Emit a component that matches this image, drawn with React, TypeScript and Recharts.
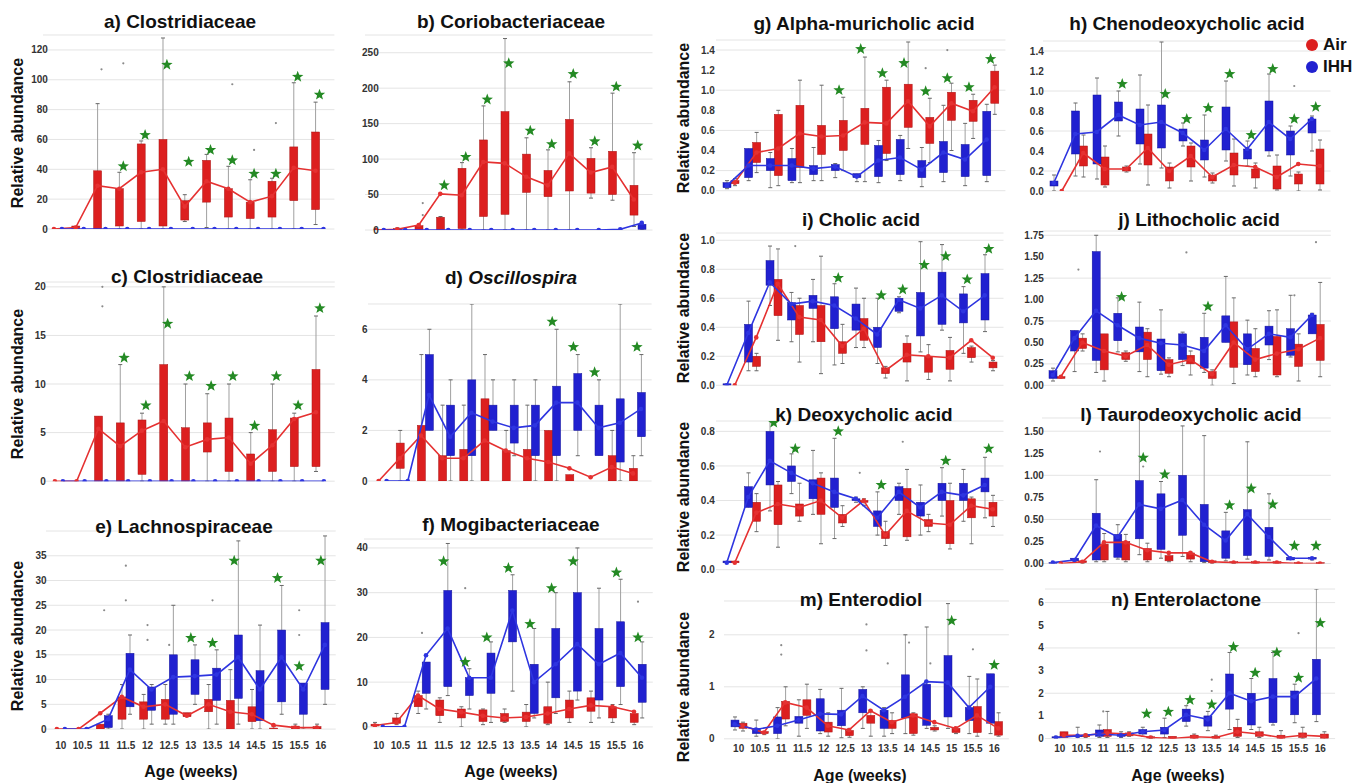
import { Bar, CartesianGrid, ComposedChart, Line, Scatter, XAxis, YAxis } from "recharts";

const AGES = ["10", "10.5", "11", "11.5", "12", "12.5", "13", "13.5", "14", "14.5", "15", "15.5", "16"];
const N13 = AGES.map(() => null);
const Z13 = AGES.map(() => 0);

// box tuples are [low whisker, q1, q3, high whisker]
// a) Clostridiaceae
const aRedBox = [null, [0, 0, 2, 2], [0, 0, 39, 84], [0, 2, 27, 38], [0, 5, 57, 59], [0, 2, 60, 128], [5, 6, 19, 23], [1, 18, 46, 50], [0, 8, 27, 42], [0, 7, 18, 33], [0, 8, 32, 34], [0, 19, 55, 98], [3, 13, 65, 85]];
const aBlueBox = N13;
const aRedLine = [0, 1, 29, 27, 38, 40, 15, 32, 27, 18, 22, 41, 39];
const aBlueLine = Z13;
const aStars = [null, null, null, 42, 63, 110, 45, 53, 46, 37, 37, 102, 90];
const aOut = [[2, 107], [3, 111], [8, 97], [9, 53], [10, 71]];
const aTicks = [0, 20, 40, 60, 80, 100, 120];

// b) Coriobacteriaceae
const bRedBox = [null, [0, 0, 2, 3], [0, 0, 6, 6], [0, 0, 18, 19], [0, 2, 87, 95], [0, 19, 127, 175], [0, 22, 167, 270], [0, 53, 107, 130], [0, 47, 84, 113], [0, 55, 156, 209], [45, 52, 101, 116], [42, 50, 111, 193], [5, 21, 63, 109]];
const bBlueBox = [null, null, null, null, null, null, null, null, null, null, null, null, [0, 1, 8, 9]];
const bRedLine = [0, 1, 7, 51, 49, 96, 94, 75, 63, 108, 81, 89, 43];
const bBlueLine = [0, 0, 0, 0, 0, 0, 0, 0, 0, 0, 0, 1, 10];
const bStars = [null, null, null, 63, 103, 184, 235, 140, 121, 220, 125, 202, 119];
const bOut = [[2, 38], [2, 21]];
const bTicks = [0, 50, 100, 150, 200, 250];

// c) Clostridiaceae
const cRedBox = [null, null, [0, 0, 6.7, 6.7], [0, 0, 6, 12], [0, 0.7, 6.3, 7], [0, 0, 12, 20], [0, 0, 5.5, 10], [0, 3, 6, 9], [0, 1, 6.5, 10], [0, 0, 2.8, 5], [0, 1, 5.3, 10], [0, 1.5, 6.5, 7], [1, 1.5, 11.5, 17]];
const cBlueBox = N13;
const cRedLine = [0, 0, 5.4, 3.6, 5.2, 6.2, 3.5, 4.3, 4.5, 1.8, 3.7, 6.4, 7.1];
const cBlueLine = Z13;
const cStars = [null, null, null, 12.7, 7.8, 16.2, 10.8, 9.8, 10.8, 5.7, 10.8, 7.8, 17.8];
const cOut = [[2, 18], [2, 20]];
const cTicks = [0, 5, 10, 15, 20];

// d) Oscillospira
const dRedBox = [null, [0, 0.5, 1.5, 2], [0, 0, 2.2, 5], [0, 0, 1, 3], [0, 0, 1.25, 3], [0, 0, 3.25, 5], [0, 0, 1.2, 2], [0, 0, 1.25, 3], [0, 0, 2, 2], [0, 0, 0.25, 0.25], null, [0, 0, 1, 2], [0, 0, 0.5, 1]];
const dBlueBox = [null, null, [2, 2, 5, 6], [0, 1, 3, 4], [0, 1, 4, 7], [2, 2, 3, 4], [1, 1.5, 3, 4], [0, 1, 3, 4], [0, 1, 3.75, 6], [1, 2, 4.25, 5], [1, 1, 3, 4], [0, 0.75, 3.25, 7], [1, 1.75, 3.5, 5]];
const dRedLine = [0, 0.9, 1.8, 0.9, 0.9, 1.6, 1.2, 0.9, 0.75, 0.5, 0.15, 0.55, 0.3];
const dBlueLine = [0, 0, 3.4, 1.75, 2.7, 2.35, 2.1, 2.2, 3.1, 3.1, 2.1, 2.3, 2.85];
const dStars = [null, null, null, null, null, null, null, null, 6.3, 5.3, 4.3, null, 5.3];
const dOut: number[][] = [];
const dTicks = [0, 2, 4, 6];

// e) Lachnospiraceae
const eRedBox = [null, null, [0, 0, 1, 1], [0, 2, 6.5, 9], [0, 2, 5.5, 7], [1, 2, 6, 9], [2.5, 2.5, 3.3, 3.3], [0, 3.5, 6, 9], [0, 0, 5.8, 12], [0, 1.5, 4.5, 8], [0, 0, 0.2, 0.5], [0, 0, 0.6, 1], [0, 0, 0.5, 1]];
const eBlueBox = [null, null, [0, 0.3, 2.7, 3], [3, 4.5, 15.3, 19], [1, 3.8, 8.5, 9], [1, 3, 15, 25], [5, 7, 14, 17], [1, 5.8, 12.3, 16], [1, 6.2, 19, 38], [0, 1.7, 11.8, 21], [3, 5.5, 20, 29], [0, 3, 9.3, 9.3], [5, 8, 21.5, 39]];
const eRedLine = [0, 0, 3.2, 6.5, 4.5, 5, 2.7, 5, 3.5, 3, 0.8, 0.3, 0.3];
const eBlueLine = [0, 0, 2, 12, 8, 10.5, 10.7, 11, 14.5, 8, 14.5, 8, 17];
const eStars = [null, null, null, null, null, null, 18.4, 17.4, 34, null, 30.5, 12.7, 34];
const eOut = [[2, 24], [3, 33], [3, 26], [4, 21], [4, 18], [5, 17], [7, 26], [11, 24], [11, 19]];
const eTicks = [0, 5, 10, 15, 20, 25, 30, 35];

// f) Mogibacteriaceae
const fRedBox = [[0, 0.2, 0.6, 1], [0.5, 0.8, 2, 3], [3, 4.5, 7, 8], [1, 2.5, 6, 6.5], [0, 2, 4, 4.5], [0.5, 1.2, 3.8, 4], [1, 1.2, 3, 4], [0, 1.2, 3.3, 5], [0.5, 0.8, 4.5, 10], [1, 2, 6, 8], [1, 3.5, 6.5, 8], [1, 2, 4.5, 5], [0.5, 1, 3, 3]];
const fBlueBox = [null, null, [4, 7.5, 14.5, 14.5], [7, 9, 30.5, 41], [4, 7, 11, 13], [1, 7.5, 16.5, 19], [8, 19, 30.5, 34], [2, 3, 14, 22], [3, 6.5, 22, 30], [6, 8, 30, 40], [2, 6, 22, 31], [5, 9, 23.5, 33], [2, 5.5, 14, 19]];
const fRedLine = [0.3, 1, 7, 4, 3.3, 2.5, 2, 2.2, 3, 4, 4.8, 4.5, 3.4];
const fBlueLine = [0, 0, 16, 22, 11, 11, 26, 10, 14, 18.5, 14, 16.5, 11];
const fStars = [null, null, null, 37, 14.5, 20, 35.5, 23, 31, 37, null, 34.5, 20];
const fOut = [[2, 21], [4, 31], [12, 28]];
const fTicks = [0, 10, 20, 30, 40];

// g) Alpha-muricholic acid
const gRedBox = [[0.05, 0.07, 0.1, 0.12], [0.18, 0.28, 0.48, 0.58], [0.05, 0.15, 0.76, 0.8], [0.08, 0.23, 0.85, 1.1], [0.1, 0.36, 0.65, 1.05], [0.2, 0.4, 0.7, 0.93], [0.09, 0.46, 0.82, 1.33], [0.3, 0.37, 1.03, 1.1], [0.42, 0.63, 1.06, 1.48], [0.28, 0.47, 0.73, 0.92], [0.4, 0.7, 0.98, 1.07], [0.52, 0.69, 0.9, 0.96], [0.76, 0.87, 1.19, 1.25]];
const gBlueBox = [[0.02, 0.03, 0.08, 0.1], [0.1, 0.13, 0.42, 0.42], [0.03, 0.2, 0.32, 0.38], [0.08, 0.1, 0.32, 0.42], [0.1, 0.16, 0.25, 0.43], [0.13, 0.2, 0.26, 0.27], [0.09, 0.13, 0.17, 0.17], [0.08, 0.14, 0.45, 0.5], [0.1, 0.16, 0.51, 0.55], [0.04, 0.13, 0.3, 0.43], [0.09, 0.18, 0.49, 0.85], [0.05, 0.14, 0.46, 0.67], [0.09, 0.15, 0.79, 0.86]];
const gRedLine = [0.08, 0.38, 0.42, 0.57, 0.54, 0.55, 0.68, 0.67, 0.89, 0.64, 0.87, 0.79, 1.03];
const gBlueLine = [0.05, 0.25, 0.25, 0.25, 0.22, 0.24, 0.14, 0.3, 0.33, 0.21, 0.38, 0.31, 0.51];
const gStars = [null, null, null, null, null, 1.0, 1.41, 1.17, 1.27, 0.99, 1.12, 1.03, 1.31];
const gOut = [[9, 1.22], [10, 1.4]];
const gTicks = [0, 0.2, 0.4, 0.6, 0.8, 1.0, 1.2, 1.4];

// h) Chenodeoxycholic acid
const hRedBox = [null, [0.14, 0.25, 0.45, 0.56], [0.04, 0.06, 0.34, 0.45], [0.19, 0.2, 0.24, 0.25], [0.06, 0.26, 0.57, 0.86], [0.03, 0.1, 0.24, 0.28], [0.1, 0.24, 0.45, 0.48], [0.08, 0.1, 0.16, 0.18], [0.05, 0.16, 0.38, 0.52], [0.03, 0.13, 0.22, 0.28], [0.01, 0.02, 0.25, 0.36], [0, 0.07, 0.17, 0.19], [0.01, 0.07, 0.42, 0.51]];
const hBlueBox = [[0, 0.05, 0.1, 0.16], [0.15, 0.37, 0.8, 0.88], [0.12, 0.27, 0.96, 1.13], [0.55, 0.7, 0.89, 1.0], [0.27, 0.47, 0.82, 1.16], [0.23, 0.43, 0.86, 1.49], [0.45, 0.5, 0.62, 0.68], [0.14, 0.31, 0.51, 0.76], [0.3, 0.41, 0.84, 1.1], [0.25, 0.32, 0.42, 0.5], [0.35, 0.4, 0.9, 1.17], [0.15, 0.36, 0.6, 0.65], [0.4, 0.58, 0.72, 0.75]];
const hRedLine = [0, 0.38, 0.22, 0.22, 0.43, 0.2, 0.35, 0.14, 0.26, 0.24, 0.14, 0.27, 0.25];
const hBlueLine = [0.08, 0.57, 0.59, 0.76, 0.66, 0.69, 0.58, 0.41, 0.62, 0.42, 0.69, 0.52, 0.72];
const hStars = [null, null, null, 1.07, null, 0.97, 0.72, 0.83, 1.17, 0.56, 1.22, 0.72, 0.84];
const hOut = [[11, 1.05]];
const hTicks = gTicks;

// i) Cholic acid
const iRedBox = [null, [0.1, 0.13, 0.2, 0.22], [0.31, 0.48, 0.73, 0.94], [0.16, 0.35, 0.55, 0.6], [0.08, 0.3, 0.55, 0.89], [0.15, 0.22, 0.3, 0.42], [0.26, 0.31, 0.46, 0.6], [0.05, 0.08, 0.12, 0.13], [0.03, 0.16, 0.29, 0.34], [0.04, 0.09, 0.2, 0.28], [0.03, 0.11, 0.24, 0.33], [0.16, 0.19, 0.26, 0.27], [0.1, 0.12, 0.16, 0.17]];
const iBlueBox = [[0, 0, 0.01, 0.01], [0.1, 0.16, 0.42, 0.58], [0.55, 0.69, 0.86, 0.96], [0.3, 0.45, 0.57, 0.64], [0.3, 0.53, 0.62, 0.73], [0.14, 0.39, 0.61, 0.7], [0.26, 0.38, 0.56, 0.67], [0.15, 0.26, 0.4, 0.6], [0.5, 0.51, 0.6, 0.61], [0.23, 0.34, 0.64, 0.99], [0.38, 0.42, 0.78, 0.97], [0.22, 0.43, 0.63, 0.68], [0.37, 0.45, 0.77, 0.9]];
const iRedLine = [0, 0.33, 0.7, 0.47, 0.45, 0.27, 0.39, 0.1, 0.21, 0.2, 0.19, 0.31, 0.19];
const iBlueLine = [0, 0.36, 0.71, 0.56, 0.58, 0.55, 0.46, 0.35, 0.59, 0.53, 0.62, 0.51, 0.62];
const iStars = [null, null, null, null, null, 0.74, null, 0.62, 0.66, 0.83, 0.89, 0.73, 0.94];
const iOut = [[3, 0.96], [12, 0.95]];
const iTicks = [0, 0.2, 0.4, 0.6, 0.8, 1.0];

// j) Lithocholic acid
const jRedBox = [[0.08, 0.08, 0.1, 0.1], [0.4, 0.43, 0.55, 0.6], [0.05, 0.18, 0.6, 0.6], [0.28, 0.3, 0.38, 0.4], [0.1, 0.3, 0.62, 0.66], [0.1, 0.14, 0.3, 0.32], [0.12, 0.25, 0.35, 0.4], [0, 0.08, 0.16, 0.18], [0.02, 0.21, 0.74, 1.02], [0.1, 0.16, 0.43, 0.66], [0.1, 0.12, 0.57, 0.88], [0.05, 0.22, 0.48, 0.6], [0.1, 0.29, 0.71, 1.2]];
const jBlueBox = [[0.05, 0.08, 0.17, 0.2], [0.16, 0.4, 0.64, 0.64], [0.15, 0.29, 1.56, 1.75], [0.39, 0.52, 0.84, 1.02], [0.16, 0.39, 0.68, 0.97], [0.13, 0.17, 0.54, 0.88], [0.23, 0.3, 0.6, 0.62], [0.15, 0.2, 0.56, 0.84], [0.5, 0.5, 0.81, 1.27], [0.12, 0.24, 0.6, 0.76], [0.3, 0.47, 0.69, 0.87], [0.33, 0.35, 0.66, 1.05], [0.6, 0.6, 0.82, 0.84]];
const jRedLine = [0.1, 0.5, 0.4, 0.34, 0.47, 0.24, 0.3, 0.13, 0.5, 0.3, 0.37, 0.42, 0.55];
const jBlueLine = [0.12, 0.55, 0.87, 0.7, 0.55, 0.49, 0.47, 0.4, 0.7, 0.42, 0.6, 0.56, 0.82];
const jStars = [null, null, null, 1.03, null, null, null, 0.92, null, null, null, null, null];
const jOut = [[1, 1.35], [6, 1.55], [12, 1.67], [11, 1.05]];
const jTicks = [0, 0.25, 0.5, 0.75, 1.0, 1.25, 1.5, 1.75];

// k) Deoxycholic acid
const kRedBox = [[0.04, 0.04, 0.05, 0.05], [0.22, 0.28, 0.39, 0.44], [0.13, 0.26, 0.49, 0.51], [0.28, 0.31, 0.38, 0.5], [0.15, 0.32, 0.53, 0.56], [0.25, 0.27, 0.32, 0.37], [0.37, 0.39, 0.4, 0.41], [0.14, 0.18, 0.22, 0.28], [0.17, 0.19, 0.47, 0.58], [0.22, 0.25, 0.29, 0.32], [0.12, 0.15, 0.4, 0.5], [0.15, 0.3, 0.41, 0.42], [0.25, 0.31, 0.39, 0.43]];
const kBlueBox = [[0.04, 0.04, 0.05, 0.05], [0.36, 0.36, 0.48, 0.56], [0.34, 0.49, 0.8, 0.9], [0.44, 0.51, 0.6, 0.67], [0.32, 0.41, 0.52, 0.69], [0.18, 0.36, 0.53, 0.76], [0.39, 0.4, 0.41, 0.42], [0.2, 0.25, 0.34, 0.45], [0.32, 0.4, 0.48, 0.5], [0.2, 0.31, 0.39, 0.49], [0.31, 0.4, 0.5, 0.59], [0.28, 0.4, 0.5, 0.58], [0.3, 0.45, 0.53, 0.65]];
const kRedLine = [0.04, 0.33, 0.38, 0.36, 0.4, 0.3, 0.4, 0.2, 0.34, 0.27, 0.26, 0.37, 0.35];
const kBlueLine = [0.04, 0.42, 0.63, 0.56, 0.5, 0.45, 0.41, 0.3, 0.45, 0.36, 0.45, 0.43, 0.49];
const kStars = [null, null, 0.85, 0.7, null, 0.8, null, 0.49, null, null, 0.63, null, 0.7];
const kOut = [[6, 0.56], [8, 0.74]];
const kTicks = [0, 0.2, 0.4, 0.6, 0.8];

// l) Taurodeoxycholic acid
const lRedBox = [null, [0, 0.01, 0.03, 0.03], [0.02, 0.04, 0.22, 0.34], [0.02, 0.04, 0.25, 0.33], [0.02, 0.04, 0.17, 0.23], [0.02, 0.03, 0.09, 0.12], [0.02, 0.05, 0.12, 0.13], [0, 0.01, 0.03, 0.03], [0, 0.01, 0.02, 0.02], [0, 0, 0.02, 0.02], [0, 0, 0.02, 0.02], [0, 0, 0.01, 0.01], [0, 0, 0.01, 0.01]];
const lBlueBox = [[0, 0, 0.01, 0.01], [0.02, 0.03, 0.06, 0.06], [0.02, 0.04, 0.57, 0.95], [0.05, 0.07, 0.33, 0.44], [0.1, 0.28, 0.94, 1.65], [0.06, 0.16, 0.79, 0.93], [0.08, 0.32, 1.0, 1.56], [0.01, 0.02, 0.67, 1.45], [0.03, 0.06, 0.37, 0.58], [0.05, 0.09, 0.61, 1.38], [0.04, 0.08, 0.41, 0.79], [0.04, 0.04, 0.07, 0.07], [0.04, 0.05, 0.07, 0.07]];
const lRedLine = [0, 0.02, 0.24, 0.24, 0.15, 0.12, 0.12, 0.02, 0.01, 0.01, 0.01, 0, 0];
const lBlueLine = [0.01, 0.04, 0.43, 0.3, 0.67, 0.62, 0.72, 0.44, 0.26, 0.56, 0.3, 0.06, 0.06];
const lStars = [null, null, null, null, 1.2, 1.01, null, null, 0.66, 0.85, 0.67, 0.2, 0.2];
const lOut = [[2, 1.27], [4, 1.1]];
const lTicks = [0, 0.25, 0.5, 0.75, 1.0, 1.25, 1.5];

// m) Enterodiol
const mRedBox = [[0.15, 0.2, 0.3, 0.32], [0.08, 0.1, 0.14, 0.14], [0.25, 0.38, 0.72, 1.0], [0.2, 0.45, 0.75, 1.05], [0.05, 0.13, 0.32, 0.5], [0.03, 0.06, 0.16, 0.2], [0.05, 0.3, 0.45, 0.55], [0.1, 0.2, 0.35, 0.5], [0.07, 0.1, 0.48, 0.5], [0.15, 0.17, 0.22, 0.25], [0.1, 0.12, 0.2, 0.22], [0.05, 0.12, 0.62, 1.15], [0.05, 0.07, 0.33, 0.5]];
const mBlueBox = [[0.17, 0.23, 0.36, 0.42], [0.05, 0.1, 0.2, 0.36], [0, 0.1, 0.42, 0.6], [0.05, 0.3, 0.43, 0.75], [0.1, 0.15, 0.77, 0.95], [0.02, 0.25, 0.55, 0.97], [0.2, 0.5, 0.95, 1.0], [0.05, 0.2, 0.55, 0.6], [0.1, 0.4, 1.23, 2.0], [0.2, 0.26, 1.05, 2.15], [0.2, 0.42, 1.6, 2.6], [0.1, 0.35, 0.6, 1.2], [0.1, 0.3, 1.25, 1.25]];
const mRedLine = [0.25, 0.12, 0.7, 0.6, 0.25, 0.17, 0.54, 0.32, 0.45, 0.32, 0.2, 0.45, 0.2];
const mBlueLine = [0.28, 0.18, 0.25, 0.36, 0.48, 0.47, 0.82, 0.55, 0.81, 1.1, 1.08, 0.6, 1.0];
const mStars = [null, null, null, null, null, null, null, null, null, null, 2.27, null, 1.42];
const mOut = [[2, 1.8], [2, 1.62], [6, 2.2], [6, 1.7], [7, 1.45], [8, 1.85], [9, 1.45], [11, 1.72]];
const mTicks = [0, 1, 2];

// n) Enterolactone
const nRedBox = [[0.05, 0.05, 0.3, 0.3], [0.05, 0.08, 0.15, 0.2], [0.05, 0.1, 0.4, 1.2], [0.1, 0.12, 0.25, 0.3], [0, 0.02, 0.08, 0.1], [0, 0, 0.1, 0.1], [0, 0, 0.15, 0.2], [0, 0, 0.1, 0.15], [0.05, 0.1, 0.5, 0.85], [0.05, 0.1, 0.3, 0.5], [0, 0, 0.15, 0.35], [0, 0.05, 0.25, 0.5], [0, 0, 0.2, 0.3]];
const nBlueBox = [[0.02, 0.04, 0.08, 0.1], [0.05, 0.08, 0.15, 0.5], [0.05, 0.1, 0.38, 0.6], [0.05, 0.1, 0.2, 0.3], [0.1, 0.2, 0.4, 0.5], [0.05, 0.2, 0.5, 0.9], [0.55, 0.75, 1.3, 1.45], [0.35, 0.55, 1.0, 1.2], [0.4, 1.3, 2.85, 3.8], [0.4, 0.6, 2.0, 2.65], [0.6, 0.7, 2.65, 3.8], [0.7, 1.05, 2.1, 2.4], [0.75, 1.05, 3.5, 6.6]];
const nRedLine = [0.15, 0.15, 0.25, 0.2, 0.05, 0, 0.08, 0.05, 0.3, 0.2, 0.05, 0.15, 0.1];
const nBlueLine = [0.05, 0.12, 0.2, 0.15, 0.3, 0.38, 1.05, 0.85, 2.0, 1.65, 1.85, 1.85, 2.65];
const nStars = [null, null, null, null, 1.1, 1.18, 1.7, 1.5, 4.04, 2.9, 3.8, 2.68, 5.1];
const nOut = [[7, 2.6], [7, 2.1], [11, 4.65], [2, 1.2]];
const nTicks = [0, 1, 2, 3, 4, 5, 6];

const FONT = "'Liberation Sans', Arial, Helvetica, sans-serif";
const RED = "#dc1f1f";
const RED_EDGE = "#a81515";
const BLUE = "#2121d0";
const BLUE_EDGE = "#15159a";
const RED_LINE = "#e53131";
const BLUE_LINE = "#2e35e0";
const GREEN = "#248a24";
const WHISK = "#a0a0a0";

type Cfg = {
  id: string;
  title: any;
  tx: number;
  ty: number;
  redBox: any[];
  blueBox: any[];
  redLine: number[];
  blueLine: number[];
  stars: (number | null)[];
  out: number[][];
  ticks: number[];
  dec: number;
  max: number;
  c0: number;
  step: number;
  redOff: number;
  blueOff: number;
  top: number;
  bottom: number;
  labelRight: number;
  showX?: boolean;
  xTickMargin?: number;
};

const L_OFF = { redOff: -4, blueOff: 4 };
const R_OFF = { redOff: 4, blueOff: -4 };

const PANELS: Cfg[] = [
  { id: "a", title: "a) Clostridiaceae", tx: 180, ty: 22, redBox: aRedBox, blueBox: aBlueBox, redLine: aRedLine, blueLine: aBlueLine, stars: aStars, out: aOut, ticks: aTicks, dec: 0, max: 130, c0: 58, step: 21.8, ...L_OFF, top: 35, bottom: 229, labelRight: 48 },
  { id: "b", title: "b) Coriobacteriaceae", tx: 511, ty: 22, redBox: bRedBox, blueBox: bBlueBox, redLine: bRedLine, blueLine: bBlueLine, stars: bStars, out: bOut, ticks: bTicks, dec: 0, max: 275, c0: 380, step: 21.5, ...L_OFF, top: 35, bottom: 230, labelRight: 379 },
  { id: "c", title: "c) Clostridiaceae", tx: 187, ty: 277, redBox: cRedBox, blueBox: cBlueBox, redLine: cRedLine, blueLine: cBlueLine, stars: cStars, out: cOut, ticks: cTicks, dec: 0, max: 20.5, c0: 59, step: 21.75, ...L_OFF, top: 281.8, bottom: 481, labelRight: 46 },
  { id: "d", title: <>d) <i>Oscillospira</i></>, tx: 511, ty: 278, redBox: dRedBox, blueBox: dBlueBox, redLine: dRedLine, blueLine: dBlueLine, stars: dStars, out: dOut, ticks: dTicks, dec: 0, max: 7, c0: 383, step: 21.2, ...L_OFF, top: 303.7, bottom: 480.7, labelRight: 368 },
  { id: "e", title: "e) Lachnospiraceae", tx: 184, ty: 527, redBox: eRedBox, blueBox: eBlueBox, redLine: eRedLine, blueLine: eBlueLine, stars: eStars, out: eOut, ticks: eTicks, dec: 0, max: 40, c0: 61, step: 21.67, ...L_OFF, top: 531.2, bottom: 729.3, labelRight: 46.7, showX: true, xTickMargin: 13 },
  { id: "f", title: "f) Mogibacteriaceae", tx: 511, ty: 525, redBox: fRedBox, blueBox: fBlueBox, redLine: fRedLine, blueLine: fBlueLine, stars: fStars, out: fOut, ticks: fTicks, dec: 0, max: 42, c0: 379, step: 21.6, ...L_OFF, top: 539.4, bottom: 727.3, labelRight: 368, showX: true, xTickMargin: 15 },
  { id: "g", title: "g) Alpha-muricholic acid", tx: 864, ty: 24, redBox: gRedBox, blueBox: gBlueBox, redLine: gRedLine, blueLine: gBlueLine, stars: gStars, out: gOut, ticks: gTicks, dec: 1, max: 1.5, c0: 731, step: 21.65, ...R_OFF, top: 40, bottom: 190.7, labelRight: 715 },
  { id: "h", title: "h) Chenodeoxycholic acid", tx: 1187, ty: 24, redBox: hRedBox, blueBox: hBlueBox, redLine: hRedLine, blueLine: hBlueLine, stars: hStars, out: hOut, ticks: hTicks, dec: 1, max: 1.5, c0: 1058, step: 21.5, ...R_OFF, top: 40.7, bottom: 190.7, labelRight: 1044 },
  { id: "i", title: "i) Cholic acid", tx: 861, ty: 220, redBox: iRedBox, blueBox: iBlueBox, redLine: iRedLine, blueLine: iBlueLine, stars: iStars, out: iOut, ticks: iTicks, dec: 1, max: 1.05, c0: 731, step: 21.5, ...R_OFF, top: 232.75, bottom: 385, labelRight: 715 },
  { id: "j", title: "j) Lithocholic acid", tx: 1199, ty: 220, redBox: jRedBox, blueBox: jBlueBox, redLine: jRedLine, blueLine: jBlueLine, stars: jStars, out: jOut, ticks: jTicks, dec: 2, max: 1.8, c0: 1057, step: 21.6, ...R_OFF, top: 230.7, bottom: 385, labelRight: 1044 },
  { id: "k", title: "k) Deoxycholic acid", tx: 864, ty: 415, redBox: kRedBox, blueBox: kBlueBox, redLine: kRedLine, blueLine: kBlueLine, stars: kStars, out: kOut, ticks: kTicks, dec: 1, max: 0.86, c0: 731, step: 21.5, ...R_OFF, top: 421.3, bottom: 570, labelRight: 715 },
  { id: "l", title: "l) Taurodeoxycholic acid", tx: 1191, ty: 415, redBox: lRedBox, blueBox: lBlueBox, redLine: lRedLine, blueLine: lBlueLine, stars: lStars, out: lOut, ticks: lTicks, dec: 2, max: 1.65, c0: 1057, step: 21.6, ...R_OFF, top: 417.8, bottom: 563.3, labelRight: 1044 },
  { id: "m", title: "m) Enterodiol", tx: 861, ty: 600, redBox: mRedBox, blueBox: mBlueBox, redLine: mRedLine, blueLine: mBlueLine, stars: mStars, out: mOut, ticks: mTicks, dec: 0, max: 2.65, c0: 739, step: 21.3, ...R_OFF, top: 601.2, bottom: 739, labelRight: 715, showX: true, xTickMargin: 6 },
  { id: "n", title: "n) Enterolactone", tx: 1186, ty: 600, redBox: nRedBox, blueBox: nBlueBox, redLine: nRedLine, blueLine: nBlueLine, stars: nStars, out: nOut, ticks: nTicks, dec: 0, max: 6.6, c0: 1060, step: 21.7, ...R_OFF, top: 588.7, bottom: 738.3, labelRight: 1044, showX: true, xTickMargin: 6 },
];

const Y_TITLES = [
  { x: 18, y: 133 },
  { x: 18, y: 384 },
  { x: 18, y: 636 },
  { x: 684, y: 118 },
  { x: 684, y: 308 },
  { x: 684, y: 497 },
  { x: 684, y: 687 },
];

const X_TITLES = [
  { x: 191, y: 772 },
  { x: 511, y: 772 },
  { x: 860, y: 776 },
  { x: 1178, y: 776 },
];

function boxShape(key: string, fill: string, edge: string) {
  return (props: any) => {
    const b = props.payload ? props.payload[key] : null;
    if (!b || !Number.isFinite(props.y) || !Number.isFinite(props.height)) return <g />;
    const [lo, q1, q3, hi] = b;
    const top = Math.min(props.y, props.y + props.height);
    const h = Math.abs(props.height);
    const py = (v: number) => (hi > lo ? top + ((hi - v) / (hi - lo)) * h : top);
    const cx = props.x + props.width / 2;
    const bt = py(q3);
    const bb = py(q1);
    return (
      <g>
        {hi > lo && <line x1={cx} x2={cx} y1={py(hi)} y2={py(lo)} stroke={WHISK} strokeWidth={1} />}
        {hi > q3 && <line x1={cx - 2} x2={cx + 2} y1={py(hi)} y2={py(hi)} stroke="#666" strokeWidth={1} />}
        {q1 > lo && <line x1={cx - 2} x2={cx + 2} y1={py(lo)} y2={py(lo)} stroke="#666" strokeWidth={1} />}
        <rect x={props.x} y={bt} width={props.width} height={Math.max(bb - bt, 1.2)} fill={fill} stroke={edge} strokeWidth={0.5} />
      </g>
    );
  };
}

function lineDot(color: string) {
  return (props: any) => {
    const { cx, cy, index } = props;
    if (!Number.isFinite(cx) || !Number.isFinite(cy)) return <g key={index} />;
    return <circle key={index} cx={cx} cy={cy} r={2.3} fill={color} />;
  };
}

function starShape(props: any) {
  if (!props.payload || props.payload.st == null || !Number.isFinite(props.cx)) return <g />;
  const pts: string[] = [];
  for (let k = 0; k < 10; k++) {
    const r = k % 2 ? 2.5 : 6;
    const a = -Math.PI / 2 + (k * Math.PI) / 5;
    pts.push(`${props.cx + r * Math.cos(a)},${props.cy + r * Math.sin(a)}`);
  }
  return <polygon points={pts.join(" ")} fill={GREEN} />;
}

function outShape(key: string) {
  return (props: any) => {
    if (!props.payload || props.payload[key] == null || !Number.isFinite(props.cx)) return <g />;
    return <circle cx={props.cx} cy={props.cy} r={1.1} fill="#8a8a8a" />;
  };
}

function Panel({ p }: { p: Cfg }) {
  const lo = Math.min(p.redOff, p.blueOff);
  const hi = Math.max(p.redOff, p.blueOff);
  const L = p.c0 + lo - p.step / 2;
  const W = 13 * p.step + (hi - lo);
  const yW = 40;
  const mT = 14;
  const mR = 12;
  const mB = 6;
  const xH = p.showX ? 30 : 0;
  const width = yW + W + mR;
  const height = mT + (p.bottom - p.top) + xH + mB;

  const rows: any[] = AGES.map((age, i) => ({
    age,
    rb: p.redBox[i],
    bb: p.blueBox[i],
    rl: p.redLine[i],
    bl: p.blueLine[i],
    st: p.stars[i],
    o0: null,
    o1: null,
  }));
  p.out.forEach(([i, v]) => {
    if (rows[i].o0 == null) rows[i].o0 = v;
    else rows[i].o1 = v;
  });

  const axisTick = { fontSize: 10, fontWeight: 700, fill: "#333" };

  return (
    <div style={{ position: "absolute", left: L - yW, top: p.top - mT }}>
      <ComposedChart width={width} height={height} data={rows} margin={{ top: mT, right: mR, bottom: mB, left: 0 }}>
        <CartesianGrid xAxisId="c" vertical={false} stroke="#e4e4e4" />
        <XAxis
          xAxisId="c"
          dataKey="age"
          type="category"
          scale="band"
          hide={!p.showX}
          height={xH}
          padding={{ left: -lo, right: hi }}
          interval={0}
          tickLine={false}
          axisLine={false}
          tickSize={0}
          tickMargin={p.xTickMargin ?? 4}
          tick={axisTick}
        />
        <XAxis xAxisId="r" dataKey="age" type="category" scale="band" hide height={0} padding={{ left: p.redOff - lo, right: hi - p.redOff }} />
        <XAxis xAxisId="b" dataKey="age" type="category" scale="band" hide height={0} padding={{ left: p.blueOff - lo, right: hi - p.blueOff }} />
        <YAxis
          domain={[0, p.max]}
          ticks={p.ticks}
          allowDataOverflow
          width={yW}
          axisLine={false}
          tickLine={false}
          tickSize={0}
          tickMargin={L - p.labelRight}
          tick={axisTick}
          tickFormatter={(v: number) => v.toFixed(p.dec)}
        />
        <Bar
          xAxisId="r"
          dataKey={(r: any) => (r.rb ? [r.rb[0], r.rb[3]] : null)}
          barSize={8}
          shape={boxShape("rb", RED, RED_EDGE)}
          isAnimationActive={false}
        />
        <Bar
          xAxisId="b"
          dataKey={(r: any) => (r.bb ? [r.bb[0], r.bb[3]] : null)}
          barSize={8}
          shape={boxShape("bb", BLUE, BLUE_EDGE)}
          isAnimationActive={false}
        />
        <Line xAxisId="r" dataKey="rl" type="linear" stroke={RED_LINE} strokeWidth={1.6} dot={lineDot(RED_LINE)} activeDot={false} isAnimationActive={false} />
        <Line xAxisId="b" dataKey="bl" type="linear" stroke={BLUE_LINE} strokeWidth={1.6} dot={lineDot(BLUE_LINE)} activeDot={false} isAnimationActive={false} />
        <Scatter xAxisId="c" dataKey="o0" shape={outShape("o0")} isAnimationActive={false} />
        <Scatter xAxisId="c" dataKey="o1" shape={outShape("o1")} isAnimationActive={false} />
        <Scatter xAxisId="c" dataKey="st" shape={starShape} isAnimationActive={false} />
      </ComposedChart>
    </div>
  );
}

const centered = (x: number, y: number, extra: any = {}) => ({
  position: "absolute" as const,
  left: x,
  top: y,
  transform: "translate(-50%, -50%)",
  whiteSpace: "nowrap" as const,
  fontWeight: 700,
  color: "#111",
  ...extra,
});

export default function App() {
  return (
    <div style={{ position: "absolute", left: 0, top: 0, width: 1352, height: 783, background: "#fff", overflow: "hidden", fontFamily: FONT }}>
      {PANELS.map((p) => (
        <Panel key={p.id} p={p} />
      ))}
      {PANELS.map((p) => (
        <div key={"t" + p.id} style={centered(p.tx, p.ty, { fontSize: 19 })}>
          {p.title}
        </div>
      ))}
      {Y_TITLES.map((t, i) => (
        <div key={"y" + i} style={centered(t.x, t.y, { fontSize: 16, transform: "translate(-50%, -50%) rotate(-90deg)" })}>
          Relative abundance
        </div>
      ))}
      {X_TITLES.map((t, i) => (
        <div key={"x" + i} style={centered(t.x, t.y, { fontSize: 16 })}>
          Age (weeks)
        </div>
      ))}
      <div style={{ position: "absolute", left: 1306, top: 39, width: 12, height: 12, borderRadius: 6, background: RED }} />
      <div style={{ position: "absolute", left: 1323, top: 45, transform: "translateY(-50%)", fontSize: 17, fontWeight: 700, color: "#111" }}>Air</div>
      <div style={{ position: "absolute", left: 1306, top: 61, width: 12, height: 12, borderRadius: 6, background: BLUE }} />
      <div style={{ position: "absolute", left: 1323, top: 67, transform: "translateY(-50%)", fontSize: 17, fontWeight: 700, color: "#111" }}>IHH</div>
    </div>
  );
}
